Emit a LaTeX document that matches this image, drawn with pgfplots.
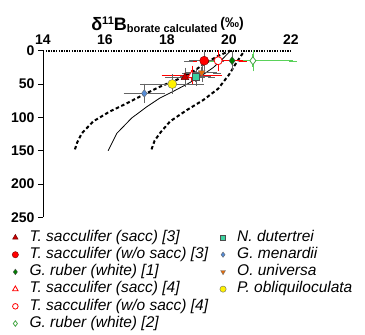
\documentclass[border=0pt]{standalone}
\usepackage{pgfplots}
\pgfplotsset{compat=1.18}
\usepackage{fontspec}
\setmainfont{Liberation Sans}
\definecolor{errgray}{RGB}{100,100,100}
\definecolor{darkred}{RGB}{200,0,0}
\definecolor{mygreen}{RGB}{0,128,0}
\definecolor{lightgreen}{RGB}{90,210,90}
\definecolor{mybrown}{RGB}{110,60,30}
\definecolor{teal2}{RGB}{60,210,160}
\definecolor{cblue}{RGB}{85,140,215}
\definecolor{orange2}{RGB}{228,108,10}
\pgfplotsset{
  sA/.style={only marks, mark=triangle*, mark size=4.5pt, mark options={fill=darkred, draw=red!40!black}},
  sB/.style={only marks, mark=*, mark size=4.5pt, mark options={fill=red, draw=red!50!black}},
  sC/.style={only marks, mark=diamond*, mark size=4pt, mark options={fill=mygreen, draw=black!70}},
  sD/.style={only marks, mark=triangle*, mark size=4.5pt, mark options={fill=white, draw=red, line width=0.8pt}},
  sE/.style={only marks, mark=*, mark size=4pt, mark options={fill=white, draw=red, line width=0.8pt}},
  sF/.style={only marks, mark=diamond*, mark size=4pt, mark options={fill=white, draw=lightgreen!80!black, line width=0.8pt}},
  sG/.style={only marks, mark=square*, mark size=3.5pt, mark options={fill=teal2, draw=black!70}},
  sH/.style={only marks, mark=diamond*, mark size=3.8pt, mark options={fill=cblue, draw=black!60}},
  sI/.style={only marks, mark=triangle*, mark size=4pt, mark options={rotate=180, fill=orange2, draw=black!60}},
  sJ/.style={only marks, mark=*, mark size=4.5pt, mark options={fill=yellow, draw=black!60}},
  error bars/eg/.style={error bar style={color=errgray}, error mark options={color=errgray}},
}
\begin{document}
\begin{tikzpicture}
\begin{axis}[
  at={(43pt,-50.7pt)}, anchor=north west,
  scale only axis, width=248pt, height=166.7pt,
  xmin=14, xmax=22, ymin=0, ymax=250, y dir=reverse,
  clip=false,
  axis x line=top, axis y line=left,
  axis line style={-},
  x axis line style={line width=1.8pt, dash pattern=on 1.4pt off 1.2pt},
  y axis line style={line width=0.9pt},
  xtick={14,16,18,20,22}, ytick={0,50,100,150,200,250},
  x tick style={draw=none},
  y tick style={line width=0.9pt, black},
  tick align=outside, major tick length=5pt,
  /pgf/number format/assume math mode=true,
  xticklabel style={font=\fontsize{14}{14}\selectfont\bfseries, yshift=-2pt},
  yticklabel style={font=\fontsize{14}{14}\selectfont\bfseries},
  legend columns=2, legend cell align=left,
  legend style={draw=none, fill=none, inner sep=0pt,
    at={(axis description cs:-0.125,-0.07)}, anchor=north west,
    font=\fontsize{15.5}{17}\selectfont\itshape,
    nodes={inner sep=1pt, text height=11pt, text depth=3.5pt},
    row sep=0.7pt,
    /tikz/every odd column/.append style={column sep=10pt},
    /tikz/every even column/.append style={column sep=8pt}},
  legend image post style={scale=0.7},
  error bars/error bar style={line width=0.8pt},
  error bars/error mark options={line width=0.8pt, mark size=3.5pt},
]
% legend (two columns, read down each column)
\addlegendimage{sA}\addlegendentry{T. sacculifer (sacc) [3]}
\addlegendimage{sG}\addlegendentry{N. dutertrei}
\addlegendimage{sB}\addlegendentry{T. sacculifer (w/o sacc) [3]}
\addlegendimage{sH}\addlegendentry{G. menardii}
\addlegendimage{sC}\addlegendentry{G. ruber (white) [1]}
\addlegendimage{sI}\addlegendentry{O. universa}
\addlegendimage{sD}\addlegendentry{T. sacculifer (sacc) [4]}
\addlegendimage{sJ}\addlegendentry{P. obliquiloculata}
\addlegendimage{sE}\addlegendentry{T. sacculifer (w/o sacc) [4]}
\addlegendimage{empty legend}\addlegendentry{}
\addlegendimage{sF}\addlegendentry{G. ruber (white) [2]}
% curves
\addplot[forget plot, black, line width=2pt, dash pattern=on 3.5pt off 2.5pt] coordinates {
(15.03,148)(15.1,138)(15.25,124)(15.62,106)(16.16,91)(16.7,79)(17.24,66)(17.77,54)(18.3,44)(18.85,31)(19.16,21)(19.6,9)(20.03,0)};
\addplot[forget plot, black, line width=0.8pt] coordinates {
(16.1,150)(16.38,124)(16.86,101)(17.35,84)(17.77,71)(18.2,61)(18.69,49)(19.1,38)(19.5,25)(19.8,12)(20.05,0)};
\addplot[forget plot, black, line width=2pt, dash pattern=on 3.5pt off 2.5pt] coordinates {
(17.5,148)(17.6,135)(17.8,122)(18.1,106)(18.64,89)(19.17,74)(19.65,57)(20.0,36)(20.25,17)(20.5,0)};
% brown x error bar for G. ruber [1]
\addplot[forget plot, only marks, mark=none, error bars/.cd, x dir=both, x explicit,
  error bar style={color=mybrown, line width=1.2pt}, error mark options={color=mybrown, line width=1pt, mark size=3.5pt}]
  coordinates {(20.1,15) +- (0.66,0)};
% data
\addplot[forget plot, sD, error bars/.cd, x dir=both, x explicit, y dir=both, y explicit,
  error bar style={color=red}, error mark options={color=red}]
  coordinates {(18.8,37) +- (0.83,8)};
\addplot[forget plot, sA, error bars/.cd, x dir=both, x explicit, y dir=both, y explicit, eg]
  coordinates {(18.58,40) +- (0.5,8)};
\addplot[forget plot, sG, error bars/.cd, x dir=both, x explicit, y dir=both, y explicit, eg]
  coordinates {(18.93,39) +- (0.5,8)};
\addplot[forget plot, sI, error bars/.cd, x dir=both, x explicit, y dir=both, y explicit, eg]
  coordinates {(19.12,33) +- (0.5,8)};
\addplot[forget plot, sH, error bars/.cd, x dir=both, x explicit, y dir=both, y explicit, eg]
  coordinates {(17.27,64) +- (0.55,9)};
\addplot[forget plot, sJ, error bars/.cd, x dir=both, x explicit, y dir=both, y explicit, eg]
  coordinates {(18.17,50) +- (0.88,8)};
\addplot[forget plot, sF, error bars/.cd, x dir=both, x explicit, y dir=both, y explicit,
  error bar style={color=lightgreen}, error mark options={color=lightgreen}]
  coordinates {(20.77,15) +- (1.3,10)};
\addplot[forget plot, sE, error bars/.cd, x dir=both, x explicit, y dir=both, y explicit,
  error bar style={color=red}, error mark options={color=red}]
  coordinates {(19.65,15) +- (0.8,10)};
\addplot[forget plot, sC, error bars/.cd, y dir=both, y explicit, eg]
  coordinates {(20.1,15) +- (0,8)};
\addplot[forget plot, sB, error bars/.cd, x dir=both, x explicit, y dir=both, y explicit, eg]
  coordinates {(19.2,15) +- (0.5,9)};
\end{axis}
\node[anchor=base, font=\bfseries, inner sep=0pt] at (167.5pt,-30.5pt)
  {\fontsize{18}{18}\selectfont δ\raisebox{6.5pt}{\fontsize{11}{11}\selectfont 11}B\raisebox{-1.5pt}{\fontsize{11}{11}\selectfont borate calculated}\,\raisebox{3pt}{\fontsize{14}{14}\selectfont(‰)}};
\pgfresetboundingbox
\path[use as bounding box] (0pt,0pt) rectangle (365pt,-335pt);
\end{tikzpicture}
\end{document}
